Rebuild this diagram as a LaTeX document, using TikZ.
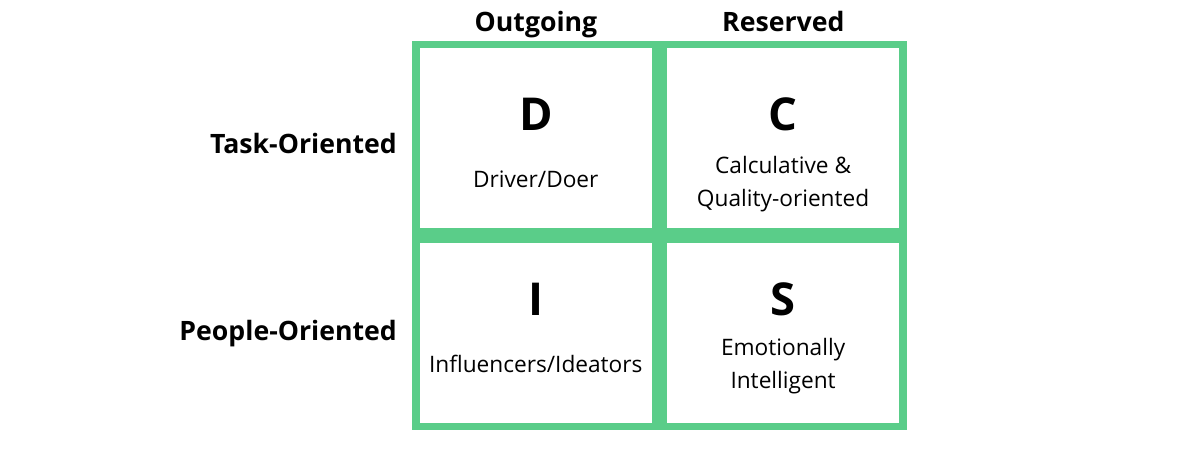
\documentclass[tikz,border=0pt]{standalone}
\usepackage{fontspec}
\setmainfont{Open Sans}
\usepackage{tikz}
\usetikzlibrary{positioning}
\definecolor{gruen}{HTML}{5ACD89}

\begin{document}
\begin{tikzpicture}[x=0.75pt, y=-0.75pt,
        cell/.style={draw=gruen, line width=5.6pt, fill=white,
                     minimum width=180pt, minimum height=140.5pt,
                     inner sep=0pt},
        letter/.style={anchor=base, font=\fontsize{34}{40}\selectfont\bfseries},
        descr/.style={anchor=base, font=\fontsize{17}{24.5}\selectfont,
                      align=center},
        axis/.style={anchor=base, font=\fontsize{20}{24}\selectfont\bfseries}
      ]
      \useasboundingbox (0,0) rectangle (1200,450);
      \node[cell] (dcell) at (535.8,138) {};
      \node[cell] (ccell) at (783.1,138) {};
      \node[cell] (icell) at (535.8,332.8) {};
      \node[cell] (scell) at (783.1,332.8) {};
      \node[letter] (dlet) at (535.8,130) {D};
      \node[letter] (clet) at (783.1,130) {C};
      \node[letter] (ilet) at (535.8,315) {I};
      \node[letter] (slet) at (783.1,315) {S};
      \node[descr] (ddesc) at (535.8,187) {Driver/Doer};
      \node[descr] (cdesc) at (783.1,206) {Calculative \&\\Quality-oriented};
      \node[descr] (idesc) at (535.8,372.7) {Influencers/Ideators};
      \node[descr] (sdesc) at (783.1,388) {Emotionally\\Intelligent};
      \node[axis] (outg) at (536,31.7) {Outgoing};
      \node[axis] (resv) at (783.3,31.7) {Reserved};
      \node[axis, anchor=base east] (task) at (401.5,153.3) {Task-Oriented};
      \node[axis, anchor=base east] (peop) at (401.5,340) {People-Oriented};
    \end{tikzpicture}
\end{document}
